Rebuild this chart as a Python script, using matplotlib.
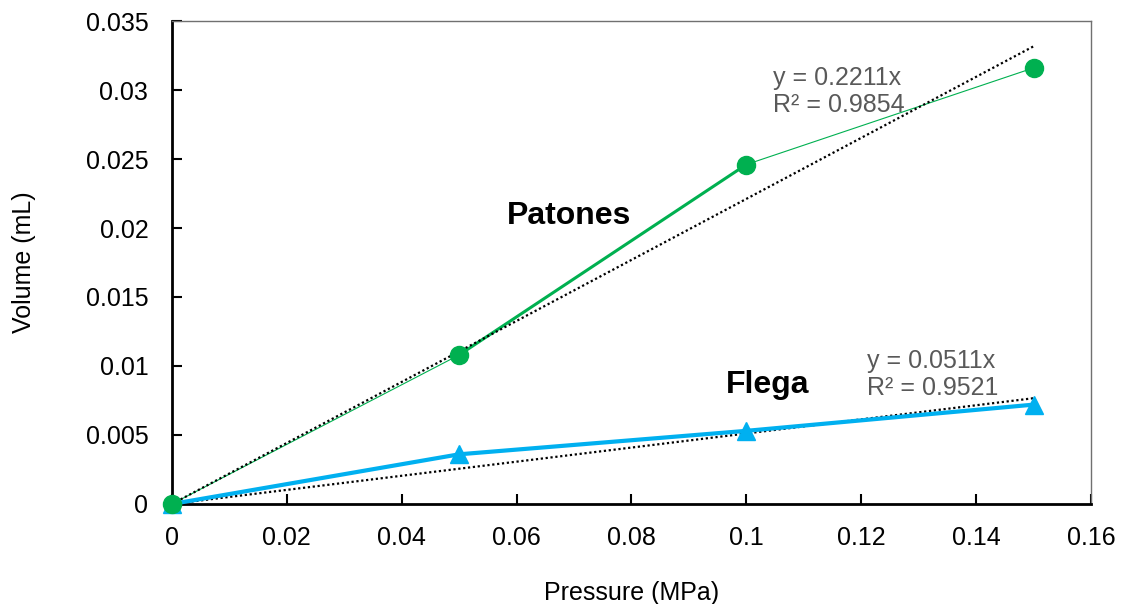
import numpy as np
import matplotlib.pyplot as plt

plt.rcParams['font.family'] = ['Liberation Sans', 'DejaVu Sans']

# data
pressure = [0, 0.05, 0.1, 0.15]
patones = [0, 0.0108, 0.0246, 0.0316]
flega = [0, 0.0036, 0.0053, 0.0072]
slope_patones = 0.2211
slope_flega = 0.0511
r2_patones = 0.9854
r2_flega = 0.9521
xticks = [0, 0.02, 0.04, 0.06, 0.08, 0.1, 0.12, 0.14, 0.16]
yticks = [0, 0.005, 0.01, 0.015, 0.02, 0.025, 0.03, 0.035]

green = "#00B050"
blue = "#00B0F0"
gray = "#595959"

fig = plt.figure(figsize=(11.21, 6.04), dpi=100)
ax = fig.add_axes([0.1534, 0.1656, 0.8198, 0.7996])

# trend lines (linear through origin)
xt = np.array([0, pressure[-1]])
ax.plot(xt, slope_patones * xt, color="black", lw=1.6, ls=(0, (1, 1.2)), zorder=3)
ax.plot(xt, slope_flega * xt, color="black", lw=1.6, ls=(0, (1, 1.2)), zorder=3)

# Patones: thin line through all points, thicker middle segment
ax.plot(pressure, patones, color=green, lw=0.8, zorder=2)
ax.plot(pressure[1:3], patones[1:3], color=green, lw=2.2, zorder=2)
ax.plot(pressure, patones, ls="none", marker="o", ms=13, color=green, zorder=5, clip_on=False)

# Flega
ax.plot(pressure, flega, color=blue, lw=3, marker="^", ms=13, zorder=4, clip_on=False)

ax.set_xlim(0, 0.16)
ax.set_ylim(0, 0.035)
ax.set_xticks(xticks)
ax.set_yticks(yticks)
ax.set_xticklabels(["%g" % v for v in xticks])
ax.set_yticklabels(["%g" % v for v in yticks])
ax.tick_params(direction="in", length=7, width=1.5, labelsize=18, colors="black")
ax.tick_params(axis="x", pad=16)
ax.tick_params(axis="y", pad=17)

for s in ["left", "bottom"]:
    ax.spines[s].set_linewidth(2)
    ax.spines[s].set_color("black")
for s in ["top", "right"]:
    ax.spines[s].set_linewidth(1)
    ax.spines[s].set_color("#707070")

ax.set_xlabel("Pressure (MPa)", fontsize=18, labelpad=22)
ax.set_ylabel("Volume (mL)", fontsize=18, labelpad=36)

ax.text(0.1046, 0.0299, "y = %.4fx\nR² = %.4f" % (slope_patones, r2_patones),
        fontsize=18, color=gray, linespacing=1.15, va="center")
ax.text(0.1210, 0.0094, "y = %.4fx\nR² = %.4f" % (slope_flega, r2_flega),
        fontsize=18, color=gray, linespacing=1.15, va="center")
ax.text(0.0583, 0.0209, "Patones", fontsize=23, fontweight="bold", va="center")
ax.text(0.0965, 0.0086, "Flega", fontsize=23, fontweight="bold", va="center")

plt.savefig("out.png", dpi=100)
